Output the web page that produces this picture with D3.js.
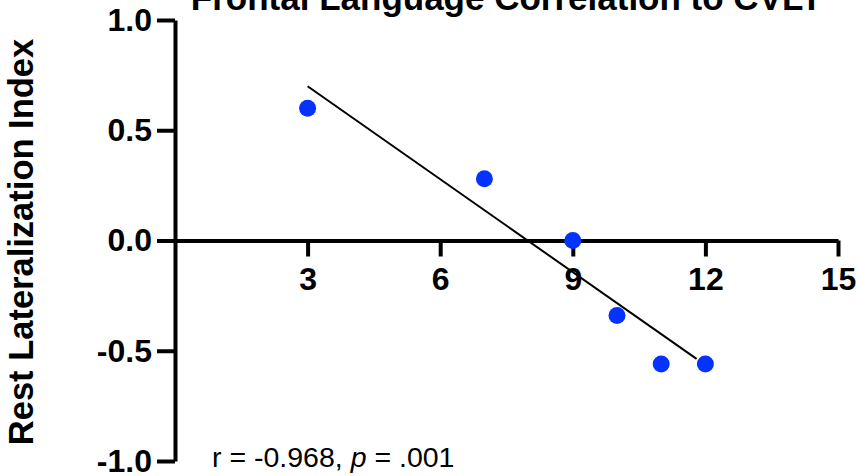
<!DOCTYPE html>
<html>
<head>
<meta charset="utf-8">
<script src="https://cdn.jsdelivr.net/npm/d3@7"></script>
<style>
  body { margin: 0; background: #fff; }
  svg { display: block; font-family: "Liberation Sans", Arial, sans-serif; }
</style>
</head>
<body>
<div id="chart"></div>
<script>
// data
const xValues = [3, 7, 9, 10, 11, 12];
const yValues = [0.60, 0.28, 0.0, -0.34, -0.56, -0.56];
const xTicks = [3, 6, 9, 12, 15];
const yTicks = [-1.0, -0.5, 0.0, 0.5, 1.0];
const fitExtent = [3, 11.8]; // range the fitted line is drawn over
const titleText = "Frontal Language Correlation to CVLT";
const yLabel = "Rest Lateralization Index";

const width = 857, height = 476;
const svg = d3.select('#chart').append('svg')
    .attr('width', width)
    .attr('height', height);

const x = d3.scaleLinear().domain([0, 15]).range([175, 838]);
const y = d3.scaleLinear().domain([-1, 1]).range([461, 20]);

// least squares fit
const mx = d3.mean(xValues), my = d3.mean(yValues);
let sxy = 0, sxx = 0;
xValues.forEach((v, i) => {
    sxy += (v - mx) * (yValues[i] - my);
    sxx += (v - mx) * (v - mx);
});
const slope = sxy / sxx;
const intercept = my - slope * mx;

// y axis (at x = 0)
const yAxis = svg.append('g')
    .attr('transform', `translate(${x(0)},0)`)
    .call(d3.axisLeft(y).tickValues(yTicks).tickSize(18).tickSizeOuter(0)
        .tickFormat(d3.format('.1f')).tickPadding(5));

// x axis (at y = 0)
const xAxis = svg.append('g')
    .attr('transform', `translate(0,${y(0)})`)
    .call(d3.axisBottom(x).tickValues(xTicks).tickSize(16).tickSizeOuter(0)
        .tickPadding(11));

[yAxis, xAxis].forEach(g => {
    g.select('.domain').attr('stroke', '#000').attr('stroke-width', 4);
    g.selectAll('.tick line').attr('stroke', '#000').attr('stroke-width', 4);
    g.selectAll('.tick text')
        .attr('fill', '#000')
        .style('font-size', '32px')
        .style('font-weight', 'bold');
});
yAxis.selectAll('.tick text').text(d => d3.format('.1f')(d).replace('−', '-'));
xAxis.selectAll('.tick text').attr('dy', '0.71em');

// regression line
svg.append('line')
    .attr('x1', x(fitExtent[0]))
    .attr('y1', y(intercept + slope * fitExtent[0]))
    .attr('x2', x(fitExtent[1]))
    .attr('y2', y(intercept + slope * fitExtent[1]))
    .attr('stroke', '#000')
    .attr('stroke-width', 2);

// points
svg.selectAll('circle.pt')
    .data(xValues.map((v, i) => ({ x: v, y: yValues[i] })))
    .enter().append('circle')
    .attr('class', 'pt')
    .attr('cx', d => x(d.x))
    .attr('cy', d => y(d.y))
    .attr('r', 8.5)
    .attr('fill', '#0433ff');

// title (partly cut off at the top, as in the reference)
svg.append('text')
    .attr('x', (x.range()[0] + x.range()[1]) / 2)
    .attr('y', 10)
    .attr('text-anchor', 'middle')
    .style('font-size', '35px')
    .style('font-weight', 'bold')
    .text(titleText);

// y axis label
svg.append('text')
    .attr('transform', 'translate(33,242) rotate(-90)')
    .attr('text-anchor', 'middle')
    .style('font-size', '34.5px')
    .style('font-weight', 'bold')
    .text(yLabel);

// stats annotation
const note = svg.append('text')
    .attr('x', 212)
    .attr('y', 467)
    .style('font-size', '28.5px');
note.append('tspan').text('r = -0.968, ');
note.append('tspan').style('font-style', 'italic').text('p');
note.append('tspan').text(' = .001');
</script>
</body>
</html>
